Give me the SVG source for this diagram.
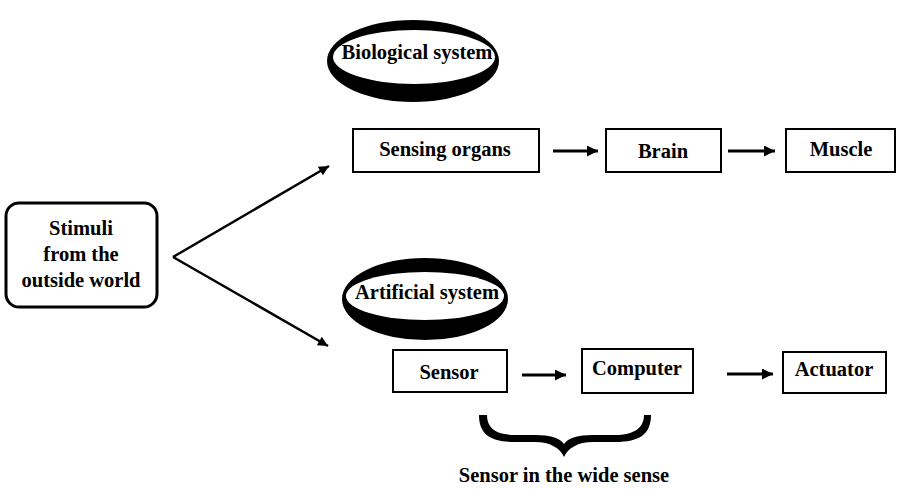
<svg xmlns="http://www.w3.org/2000/svg" width="900" height="489" viewBox="0 0 900 489">
<style>
.t{font-family:"Liberation Serif","Times New Roman",serif;font-weight:bold;font-size:20.5px;fill:#000;text-anchor:middle}
.box{fill:#fff;stroke:#000;stroke-width:2}
.ln{stroke:#000;stroke-width:2.5;fill:none}
.ar{stroke:#000;stroke-width:3;fill:none}
</style>
<defs>
<marker id="ah" viewBox="0 0 10 10" refX="10" refY="5" markerUnits="userSpaceOnUse" markerWidth="14" markerHeight="10" orient="auto">
<path d="M0,0 L10,5 L0,10 z" fill="#000"/>
</marker>
<marker id="ah2" viewBox="0 0 10 10" refX="10" refY="5" markerUnits="userSpaceOnUse" markerWidth="16" markerHeight="11" orient="auto">
<path d="M0,0 L10,5 L0,10 z" fill="#000"/>
</marker>
</defs>
<rect width="900" height="489" fill="#fff"/>
<g id="stimuli">
<rect x="6" y="203" width="151" height="104" rx="13" fill="#fff" stroke="#000" stroke-width="3"/>
<text class="t" x="81" y="235">Stimuli</text>
<text class="t" x="81" y="261">from the</text>
<text class="t" x="81" y="287">outside world</text>
</g>
<g id="biological">
<ellipse cx="413" cy="61" rx="86" ry="41" fill="#000"/>
<ellipse cx="414" cy="57" rx="81" ry="27" fill="#fff"/>
<text class="t" x="417" y="59">Biological system</text>
</g>
<g id="artificial">
<ellipse cx="425" cy="299" rx="83" ry="41" fill="#000"/>
<ellipse cx="425" cy="296" rx="79" ry="24" fill="#fff"/>
<text class="t" x="427" y="299">Artificial system</text>
</g>
<g id="sensing"><rect class="box" x="353" y="129" width="186" height="43"/><text class="t" x="445" y="156">Sensing organs</text></g>
<g id="brain"><rect class="box" x="606" y="129" width="115" height="43"/><text class="t" x="663" y="158">Brain</text></g>
<g id="muscle"><rect class="box" x="786" y="129" width="109" height="43"/><text class="t" x="841" y="156">Muscle</text></g>
<g id="sensor"><rect class="box" x="393" y="350" width="114" height="42"/><text class="t" x="449" y="379">Sensor</text></g>
<g id="computer"><rect class="box" x="582" y="349" width="111" height="44"/><text class="t" x="637" y="375">Computer</text></g>
<g id="actuator"><rect class="box" x="783" y="352" width="103" height="41"/><text class="t" x="834" y="376">Actuator</text></g>
<g id="connectors">
<line class="ln" x1="173" y1="257" x2="329" y2="166" marker-end="url(#ah)"/>
<line class="ln" x1="173" y1="257" x2="328" y2="346" marker-end="url(#ah)"/>
<line class="ar" x1="553" y1="151" x2="598" y2="151" marker-end="url(#ah2)"/>
<line class="ar" x1="728" y1="151" x2="775" y2="151" marker-end="url(#ah2)"/>
<line class="ar" x1="522" y1="375" x2="566" y2="375" marker-end="url(#ah2)"/>
<line class="ar" x1="727" y1="374" x2="773" y2="374" marker-end="url(#ah2)"/>
</g>
<g id="brace">
<path d="M479 415 C479 434 490 442 515 442 L535 442 C550 442 560 448 564 457 C568 448 578 442 593 442 L615 442 C640 442 651 434 651 415 L644 415 C644 428 634 435 615 435 L593 435 C578 435 568 438 564 444 C560 438 550 435 535 435 L515 435 C496 435 487 428 487 415 Z" fill="#000"/>
<text class="t" x="564" y="482">Sensor in the wide sense</text>
</g>
</svg>
